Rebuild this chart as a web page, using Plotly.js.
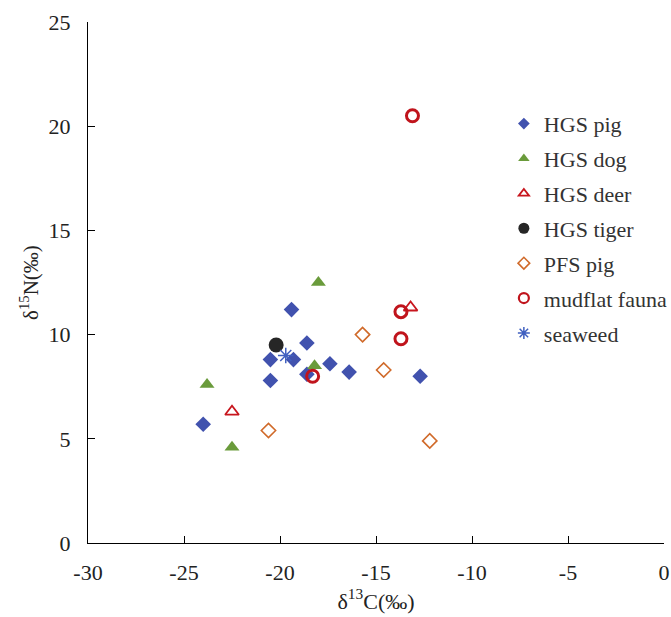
<!DOCTYPE html>
<html>
<head>
<meta charset="utf-8">
<script src="https://cdn.plot.ly/plotly-3.0.1.min.js"></script>
<style>html,body{margin:0;padding:0;background:#fff;}#chart{width:671px;height:617px;}</style>
</head>
<body>
<div id="chart"></div>
<script>
// Data (δ13C, δ15N in ‰)
const hgsPigX = [-19.4, -18.6, -20.5, -19.3, -20.5, -17.4, -16.4, -18.6, -12.7, -24.0];
const hgsPigY = [11.2, 9.6, 8.8, 8.8, 7.8, 8.6, 8.2, 8.1, 8.0, 5.7];
const hgsDogX = [-18.0, -18.2, -23.8, -22.5];
const hgsDogY = [12.5, 8.5, 7.6, 4.6];
const hgsDeerX = [-22.5, -13.2];
const hgsDeerY = [6.3, 11.3];
const hgsTigerX = [-20.2];
const hgsTigerY = [9.5];
const pfsPigX = [-15.7, -14.6, -20.6, -12.2];
const pfsPigY = [10.0, 8.3, 5.4, 4.9];
const mudflatX = [-13.7, -13.7, -18.3, -13.1];
const mudflatY = [11.1, 9.8, 8.0, 20.5];
const seaweedX = [-19.7];
const seaweedY = [9.0];

const xTickVals = [-30, -25, -20, -15, -10, -5, 0];
const xTickText = ['-30', '-25', '-20', '-15', '-10', '-5', '0'];
const yTickVals = [0, 5, 10, 15, 20, 25];
const yTickText = ['0', '5', '10', '15', '20', '25'];

const serif = 'Liberation Serif, Times New Roman, serif';

const series = [
  {name:'HGS pig', x:hgsPigX, y:hgsPigY, symbol:'diamond', size:12, lsize:9, color:'#4152AE', lw:0},
  {name:'HGS dog', x:hgsDogX, y:hgsDogY, symbol:'triangle-up', size:13, lsize:10, color:'#6A9B3B', lw:0},
  {name:'HGS deer', x:hgsDeerX, y:hgsDeerY, symbol:'triangle-up-open', size:12, lsize:9, color:'#C8161E', lw:1.8},
  {name:'HGS tiger', x:hgsTigerX, y:hgsTigerY, symbol:'circle', size:15, lsize:11, color:'#262626', lw:0},
  {name:'PFS pig', x:pfsPigX, y:pfsPigY, symbol:'diamond-open', size:11, lsize:9, color:'#D06A2A', lw:1.6},
  {name:'mudflat fauna', x:mudflatX, y:mudflatY, symbol:'circle-open', size:12, lsize:10, color:'#C0141C', lw:3},
  {name:'seaweed', x:seaweedX, y:seaweedY, symbol:'asterisk-open', size:13, lsize:10, color:'#4060C0', lw:1.5}
];

const traces = [];
series.forEach((s, i) => {
  traces.push({type:'scatter', mode:'markers', name:s.name, x:s.x, y:s.y, showlegend:false,
    marker:{symbol:s.symbol, size:s.size, color:s.color, line:{width:s.lw, color:s.color}}});
});
series.forEach((s, i) => {
  // legend-only entries with smaller symbols, as in the reference legend
  traces.push({type:'scatter', mode:'markers', name:s.name, x:[null], y:[null], showlegend:true,
    legendgroup:'g' + i,
    marker:{symbol:s.symbol, size:s.lsize, color:s.color, line:{width:Math.min(s.lw, 2.2), color:s.color}}});
});

const layout = {
  width:671, height:617,
  margin:{l:88, r:7, t:22, b:74, autoexpand:false},
  paper_bgcolor:'#fff', plot_bgcolor:'#fff',
  font:{family:serif, color:'#222'},
  showlegend:true,
  legend:{x:0.722, y:0.845, xanchor:'left', yanchor:'top',
          font:{family:serif, size:22, color:'#333'},
          tracegroupgap:3.3, itemwidth:30, bgcolor:'rgba(0,0,0,0)'},
  xaxis:{range:[-30,0], tickmode:'array', tickvals:xTickVals, ticktext:xTickText,
         automargin:false, showgrid:false, zeroline:false,
         showline:true, linecolor:'#000', linewidth:1, ticks:'inside', ticklen:7,
         tickcolor:'#000', tickfont:{family:serif, size:22, color:'#222'}, ticklabelstandoff:10,
         title:{text:'δ<sup>13</sup>C(‰)', font:{family:serif, size:22, color:'#222'}, standoff:6}},
  yaxis:{range:[0,25], tickmode:'array', tickvals:yTickVals, ticktext:yTickText,
         automargin:false, showgrid:false, zeroline:false,
         showline:true, linecolor:'#000', linewidth:1, ticks:'inside', ticklen:7,
         tickcolor:'#000', tickfont:{family:serif, size:22, color:'#222'}, ticklabelstandoff:12,
         title:{text:'δ<sup>15</sup>N(‰)', font:{family:serif, size:21, color:'#222'}, standoff:4}}
};

Plotly.newPlot('chart', traces, layout, {displayModeBar:false, staticPlot:true});
</script>
</body>
</html>
